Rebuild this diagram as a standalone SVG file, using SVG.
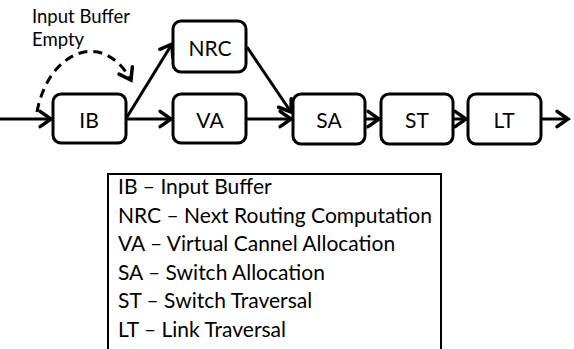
<svg xmlns="http://www.w3.org/2000/svg" width="574" height="349" viewBox="0 0 574 349">
  <defs>
    <marker id="arrow" markerUnits="userSpaceOnUse" markerWidth="24" markerHeight="24" viewBox="-13 -11 17 22" refX="0" refY="0" orient="auto">
      <path d="M-10,-7 L0,0 L-10,7" fill="none" stroke="#000" stroke-width="3.2" stroke-linejoin="miter" stroke-linecap="round"/>
    </marker>
  </defs>
  <style>
    .box { fill: #fff; stroke: #000; stroke-width: 3; }
    .lbl { font-family: Lato, "Open Sans", "Liberation Sans", sans-serif; font-size: 21px; fill: #000; text-anchor: middle; dominant-baseline: central; }
    .txt { font-family: Lato, "Open Sans", "Liberation Sans", sans-serif; font-size: 21px; fill: #000; }
    .note { font-family: Lato, "Open Sans", "Liberation Sans", sans-serif; font-size: 18.5px; fill: #000; }
    .edge { fill: none; stroke: #000; stroke-width: 3; marker-end: url(#arrow); }
    .dash { fill: none; stroke: #000; stroke-width: 3; stroke-dasharray: 9 6; marker-end: url(#arrow); }
  </style>
  <rect width="574" height="349" fill="#fff"/>

  <!-- connectors -->
  <g id="connectors">
    <line class="edge" x1="0" y1="119" x2="51" y2="119"/>
    <line class="edge" x1="127" y1="119" x2="171" y2="119"/>
    <line class="edge" x1="127" y1="117" x2="172" y2="44"/>
    <line class="edge" x1="247" y1="47" x2="291" y2="112"/>
    <line class="edge" x1="247" y1="119" x2="291" y2="119"/>
    <line class="edge" x1="366" y1="119" x2="379" y2="119"/>
    <line class="edge" x1="454" y1="119" x2="466" y2="119"/>
    <line class="edge" x1="542" y1="119" x2="568" y2="119"/>
    <path class="dash" d="M37,112 C48,52 102,28 131,80"/>
  </g>

  <!-- stage nodes -->
  <g id="IB"><rect class="box" x="53" y="94" width="73" height="49" rx="8"/><text class="lbl" x="89" y="119">IB</text></g>
  <g id="NRC"><rect class="box" x="173" y="21" width="73" height="51" rx="8"/><text class="lbl" x="210" y="47">NRC</text></g>
  <g id="VA"><rect class="box" x="173" y="94" width="73" height="49" rx="8"/><text class="lbl" x="210" y="119">VA</text></g>
  <g id="SA"><rect class="box" x="293" y="94" width="72" height="50" rx="8"/><text class="lbl" x="329" y="119">SA</text></g>
  <g id="ST"><rect class="box" x="381" y="94" width="72" height="50" rx="8"/><text class="lbl" x="417" y="119">ST</text></g>
  <g id="LT"><rect class="box" x="468" y="94" width="73" height="50" rx="8"/><text class="lbl" x="504" y="119">LT</text></g>

  <!-- annotation for the dashed bypass -->
  <g id="note">
    <text class="note" x="32" y="23">Input Buffer</text>
    <text class="note" x="32" y="46">Empty</text>
  </g>

  <!-- legend -->
  <g id="legend">
    <rect x="108" y="174" width="333" height="200" fill="none" stroke="#000" stroke-width="2"/>
    <text class="txt" x="118" y="194">IB – Input Buffer</text>
    <text class="txt" x="118" y="222.5">NRC – Next Routing Computation</text>
    <text class="txt" x="118" y="251">VA – Virtual Cannel Allocation</text>
    <text class="txt" x="118" y="279.5">SA – Switch Allocation</text>
    <text class="txt" x="118" y="308">ST – Switch Traversal</text>
    <text class="txt" x="118" y="336.5">LT – Link Traversal</text>
  </g>
</svg>
